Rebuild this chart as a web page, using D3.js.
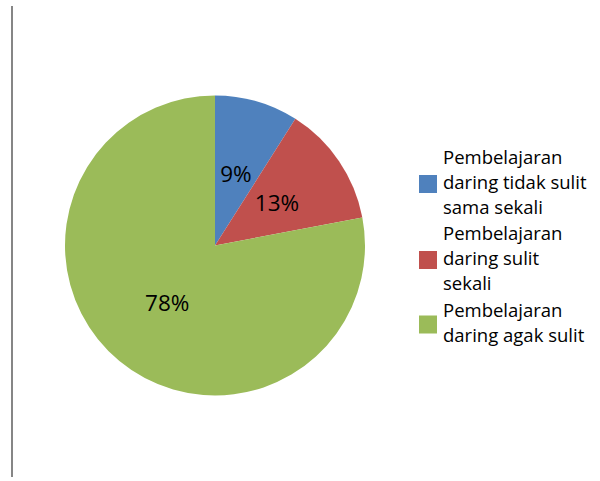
<!DOCTYPE html>
<html>
<head>
<meta charset="utf-8">
<script src="https://cdn.jsdelivr.net/npm/d3@7"></script>
<style>
  body { margin: 0; background: #fff; }
  svg { display: block; }
</style>
</head>
<body>
<svg id="chart" width="600" height="481"></svg>
<script>
const categories = [
  ["Pembelajaran", "daring tidak sulit", "sama sekali"],
  ["Pembelajaran", "daring sulit", "sekali"],
  ["Pembelajaran", "daring agak sulit"]
]
const values = [9, 13, 78]
const colors = ["#4F81BD", "#C0504D", "#9BBB59"]

const svg = d3.select("#chart")
const font = "'Open Sans', 'DejaVu Sans', sans-serif"

// garis kiri
svg.append("line")
  .attr("x1", 12).attr("x2", 12)
  .attr("y1", 6).attr("y2", 477)
  .attr("stroke", "#868686")
  .attr("stroke-width", 2)

const cx = 215, cy = 245.5, r = 150
const pie = d3.pie().sort(null).value(d => d)
const arc = d3.arc().innerRadius(0).outerRadius(r)
const arcs = pie(values)

const g = svg.append("g").attr("transform", `translate(${cx},${cy})`)

g.selectAll("path")
  .data(arcs)
  .enter()
  .append("path")
  .attr("d", arc)
  .attr("fill", (d, i) => colors[i])

g.selectAll("text")
  .data(arcs)
  .enter()
  .append("text")
  .attr("transform", d => `translate(${arc.centroid(d)})`)
  .attr("text-anchor", "middle")
  .attr("dy", "0.36em")
  .attr("font-family", font)
  .attr("font-size", 22.5)
  .attr("fill", "#000")
  .text(d => d.data + "%")

// legenda
const legendTop = [164, 240, 317]
const lineH = 25
const lg = svg.append("g")
categories.forEach((lines, i) => {
  const y0 = legendTop[i]
  const midY = y0 - 7 + (lines.length - 1) * lineH / 2
  lg.append("rect")
    .attr("x", 419).attr("y", midY - 9 + 2)
    .attr("width", 18).attr("height", 18)
    .attr("fill", colors[i])
  const t = lg.append("text")
    .attr("font-family", font)
    .attr("font-size", 18.5)
    .attr("fill", "#000")
  lines.forEach((s, j) => {
    t.append("tspan")
      .attr("x", 443)
      .attr("y", y0 + j * lineH)
      .text(s)
  })
})
</script>
</body>
</html>
